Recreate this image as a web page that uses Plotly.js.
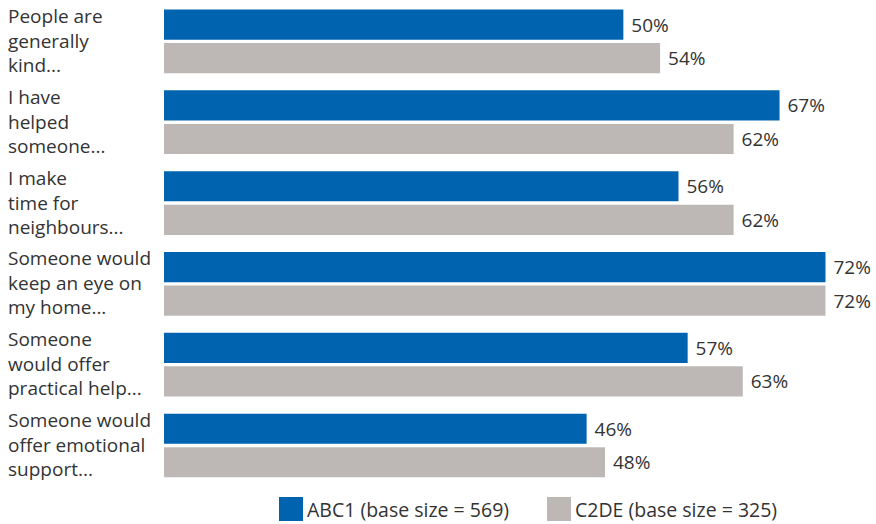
<!DOCTYPE html>
<html>
<head>
<meta charset="utf-8">
<script src="https://cdn.plot.ly/plotly-3.0.1.min.js"></script>
<style>html,body{margin:0;padding:0;background:#fff;}#chart{width:876px;height:524px;}</style>
</head>
<body>
<div id="chart"></div>
<script>
const categories = [
  "People are<br>generally<br>kind...",
  "I have<br>helped<br>someone...",
  "I make<br>time for<br>neighbours...",
  "Someone would<br>keep an eye on<br>my home...",
  "Someone<br>would offer<br>practical help...",
  "Someone would<br>offer emotional<br>support..."
];
const seriesNames = ["ABC1 (base size = 569)", "C2DE (base size = 325)"];
const abc1 = [50, 67, 56, 72, 57, 46];
const c2de = [54, 62, 62, 72, 63, 48];
const colors = ["#0063AF", "#BDB8B5"];

const FONT = "Open Sans, sans-serif";
const TXT = "#333333";

function barTrace(vals, i) {
  return {
    type: "bar", orientation: "h",
    y: categories, x: vals, name: seriesNames[i],
    marker: {color: colors[i]},
    text: vals.map(v => " " + v + "%"),
    textposition: "outside",
    textfont: {family: FONT, size: 19, color: TXT},
    cliponaxis: false,
    hoverinfo: "skip",
    showlegend: false
  };
}

const PW = 712, PH = 485, PL = 164, PB = 486;

const annotations = categories.map(c => ({
  xref: "paper", yref: "y", x: (6 - PL) / PW, y: c,
  xanchor: "left", yanchor: "middle", align: "left",
  yshift: 1,
  text: c, showarrow: false,
  font: {family: FONT, size: 19, color: TXT}
}));

// custom legend (pixel positions converted to paper coords)
const legendX = [279, 547];
const shapes = [];
seriesNames.forEach((n, i) => {
  shapes.push({type: "rect", xref: "paper", yref: "paper",
    x0: (legendX[i] - PL) / PW, x1: (legendX[i] + 24 - PL) / PW,
    y0: (PB - 497) / PH, y1: (PB - 521) / PH,
    fillcolor: colors[i], line: {width: 0}});
  annotations.push({xref: "paper", yref: "paper",
    x: (legendX[i] + 26 - PL) / PW, y: (PB - 509) / PH,
    xanchor: "left", yanchor: "middle", showarrow: false,
    text: n, font: {family: FONT, size: 19.5, color: TXT}});
});

const layout = {
  width: 876, height: 524,
  margin: {l: 164, r: 0, t: 1, b: 38},
  paper_bgcolor: "#fff", plot_bgcolor: "#fff",
  barmode: "group", bargap: 0.17, bargroupgap: 0.1,
  xaxis: {range: [0, 77.5], visible: false, showgrid: false, zeroline: false},
  yaxis: {autorange: "reversed", showticklabels: false, showgrid: false, zeroline: false, ticks: ""},
  annotations: annotations,
  shapes: shapes,
  showlegend: false
};

Plotly.newPlot("chart", [barTrace(abc1, 0), barTrace(c2de, 1)], layout, {displayModeBar: false, staticPlot: true});
</script>
</body>
</html>
